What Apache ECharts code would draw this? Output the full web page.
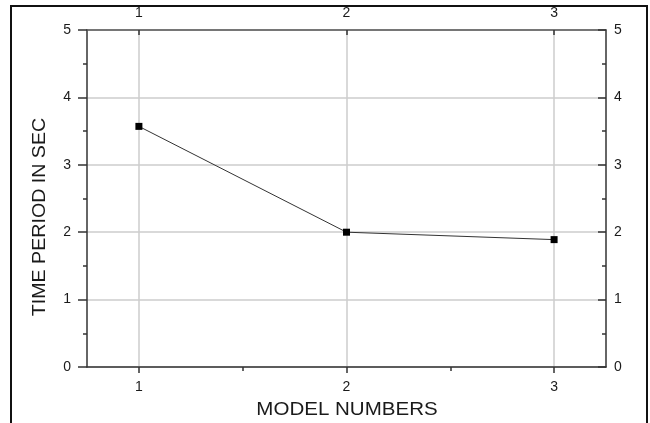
<!DOCTYPE html>
<html><head><meta charset="utf-8">
<script src="https://cdn.jsdelivr.net/npm/echarts@6/dist/echarts.min.js"></script>
<style>html,body{margin:0;padding:0;background:#fff}#c{width:650px;height:423px}</style>
</head><body><div id="c"></div>
<script>
const models = [1, 2, 3];
const timePeriod = [3.57, 2.00, 1.89];
const xTickLabels = [1, 2, 3];
const xMinorTicks = [1.5, 2.5];
const xTitle = 'MODEL NUMBERS';
const yTitle = 'TIME PERIOD IN SEC';

const chart = echarts.init(document.getElementById('c'), null, {renderer: 'canvas'});
const font = 'Liberation Sans, Arial, sans-serif';
const axisCol = '#333';
const txt = '#1a1a1a';
const lbl = {fontFamily: font, fontSize: 14, color: txt};
chart.setOption({
  animation: false,
  backgroundColor: '#fff',
  grid: {left: 87, right: 44, top: 30, bottom: 56, containLabel: false},
  xAxis: [
    {type: 'value', position: 'bottom', min: 0.75, max: 3.25,
     axisLine: {show: true, onZero: false, lineStyle: {color: axisCol, width: 1.5}},
     axisTick: {show: true, inside: false, length: 6, customValues: xTickLabels, lineStyle: {color: axisCol, width: 1.5}},
     axisLabel: Object.assign({margin: 13, customValues: xTickLabels}, lbl),
     splitLine: {show: true, lineStyle: {color: '#cccccc', width: 1.5}}},
    {type: 'value', position: 'top', min: 0.75, max: 3.25,
     axisLine: {show: true, onZero: false, lineStyle: {color: '#555', width: 1.5}},
     axisTick: {show: true, inside: true, length: 5, customValues: xTickLabels, lineStyle: {color: axisCol, width: 1.5}},
     axisLabel: Object.assign({margin: 10, customValues: xTickLabels}, lbl),
     splitLine: {show: false}},
    {type: 'value', position: 'bottom', min: 0.75, max: 3.25,
     axisLine: {show: false},
     axisTick: {show: true, inside: false, length: 4, customValues: xMinorTicks, lineStyle: {color: axisCol, width: 1.5}},
     axisLabel: {show: false},
     splitLine: {show: false}}
  ],
  yAxis: [
    {type: 'value', position: 'left', min: 0, max: 5, interval: 1,
     axisLine: {show: true, onZero: false, lineStyle: {color: axisCol, width: 1.5}},
     axisTick: {show: true, inside: false, length: 9, lineStyle: {color: axisCol, width: 1.5}},
     minorTick: {show: true, splitNumber: 2, length: 4, lineStyle: {color: axisCol, width: 1.5}},
     axisLabel: Object.assign({margin: 16}, lbl),
     splitLine: {show: true, lineStyle: {color: '#cccccc', width: 1.5}}},
    {type: 'value', position: 'right', min: 0, max: 5, interval: 1,
     axisLine: {show: true, onZero: false, lineStyle: {color: axisCol, width: 1.5}},
     axisTick: {show: true, inside: true, length: 8, lineStyle: {color: axisCol, width: 1.5}},
     minorTick: {show: true, splitNumber: 2, length: 4, lineStyle: {color: axisCol, width: 1.5}},
     axisLabel: Object.assign({margin: 8}, lbl),
     splitLine: {show: false}}
  ],
  series: [{
    type: 'line', xAxisIndex: 0, yAxisIndex: 0,
    data: models.map((m, i) => [m, timePeriod[i]]),
    symbol: 'rect', symbolSize: 7,
    itemStyle: {color: '#000'},
    lineStyle: {color: '#333', width: 1}
  }],
  graphic: [
    {type: 'rect', shape: {x: 11, y: 6, width: 636, height: 440}, style: {fill: 'none', stroke: '#111', lineWidth: 2}, silent: true},
    {type: 'text', x: 347, y: 410, scaleX: 1.14,
     style: {text: xTitle, font: '18px ' + font, fill: txt, textAlign: 'center', textVerticalAlign: 'middle'}},
    {type: 'text', x: 40, y: 217, rotation: Math.PI / 2, scaleX: 1.09,
     style: {text: yTitle, font: '18px ' + font, fill: txt, textAlign: 'center', textVerticalAlign: 'middle'}}
  ]
});
</script></body></html>
